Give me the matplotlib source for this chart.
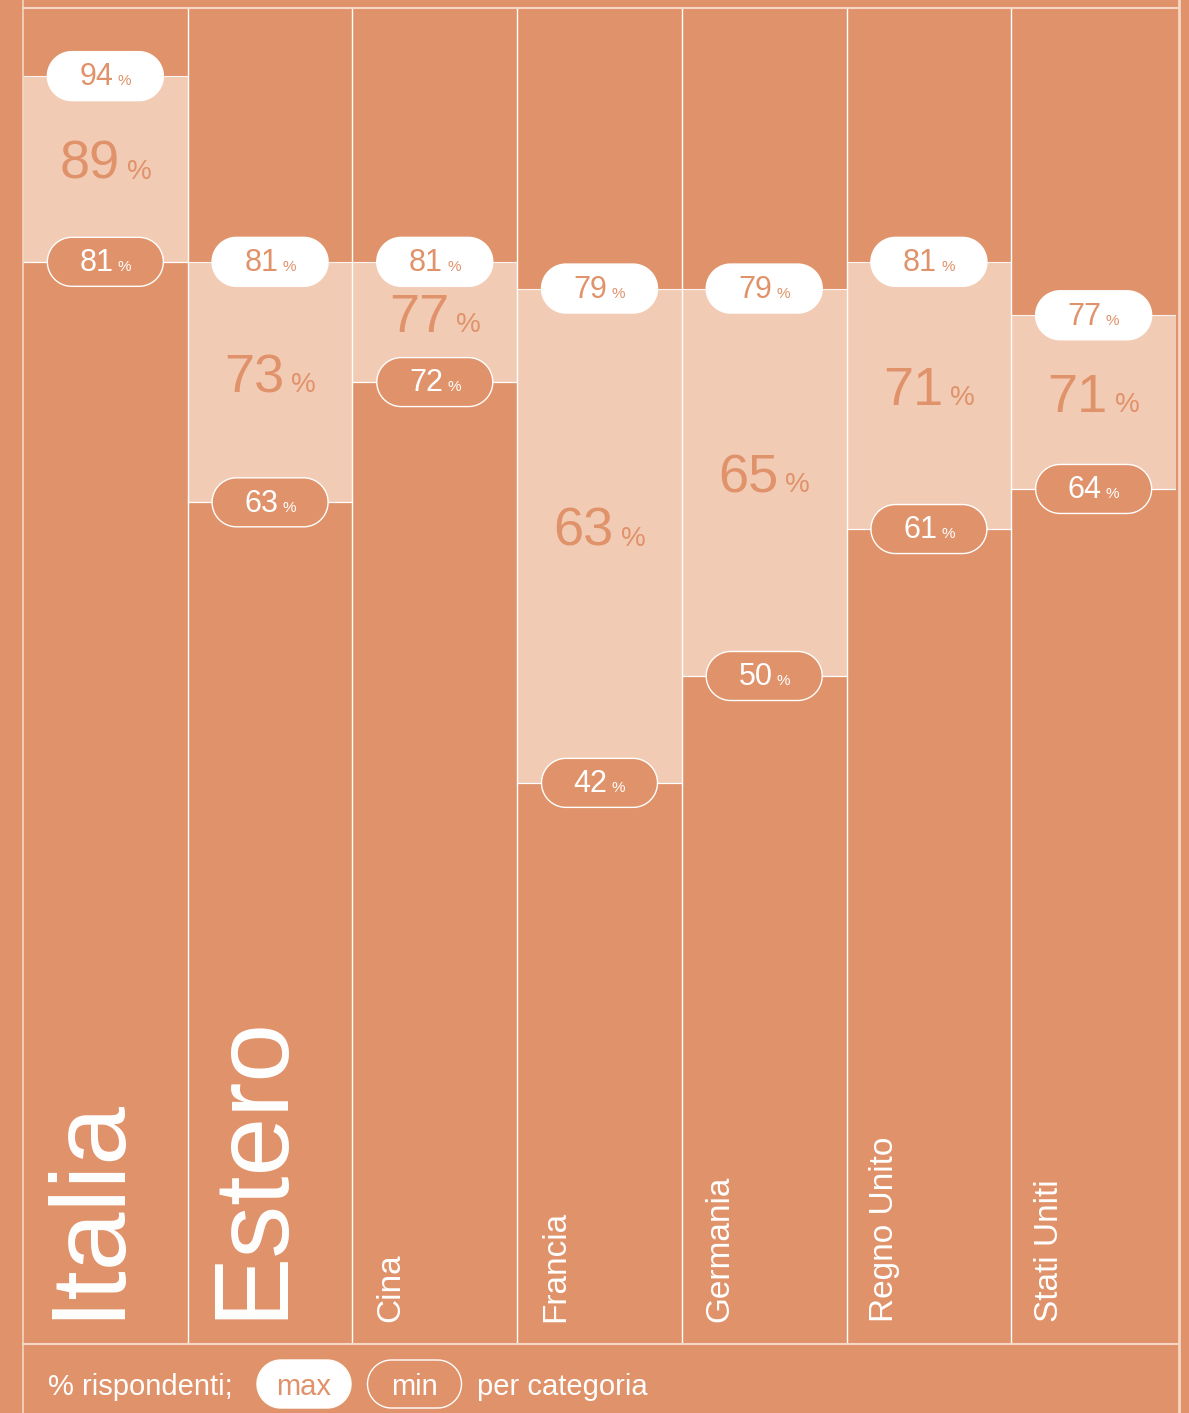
import matplotlib
matplotlib.use("Agg")
import numpy as np
import matplotlib.pyplot as plt
import matplotlib.transforms as mtransforms
from matplotlib.patches import Polygon, Rectangle
from matplotlib.lines import Line2D
from matplotlib.offsetbox import TextArea, HPacker, AnnotationBbox

plt.rcParams['font.family'] = ['Liberation Sans', 'DejaVu Sans']

# dati (% rispondenti)
categorie = ["Italia", "Estero", "Cina", "Francia", "Germania", "Regno Unito", "Stati Uniti"]
valori_max = [94.9, 81, 81, 79, 79, 81, 77]
valori_min = [81, 63, 72, 42, 50, 61, 64]
valori_medi = [89, 73, 77, 63, 65, 71, 71]
grandi = ["Italia", "Estero"]  # etichette in grande

arancio = '#E0926A'
chiaro = '#F2CBB5'
bordo = '#F6D6C4'

W, H = 1189, 1413
fig = plt.figure(figsize=(W / 100, H / 100), dpi=100, facecolor=arancio)
ax = fig.add_axes([23 / W, (H - 1344) / H, 1153 / W, 1336 / H])
ax.set_facecolor(arancio)
ax.set_xlim(0, len(categorie))
ax.set_ylim(0, 100)
ax.axis('off')


def pillola(x, y, w, h, trans, fill, edge, z=5):
    # pillola con estremi semicircolari, misure in pollici centrate su (x, y)
    r = h / 2
    a1 = np.linspace(np.pi / 2, 3 * np.pi / 2, 40)
    a2 = np.linspace(-np.pi / 2, np.pi / 2, 40)
    xs = np.concatenate([-w / 2 + r + r * np.cos(a1), w / 2 - r + r * np.cos(a2)])
    ys = np.concatenate([r * np.sin(a1), r * np.sin(a2)])
    off = mtransforms.ScaledTranslation(x, y, trans)
    p = Polygon(np.column_stack([xs, ys]), closed=True, transform=fig.dpi_scale_trans + off,
                facecolor=fill, edgecolor=edge, linewidth=1.0, zorder=z)
    if trans is fig.transFigure:
        fig.add_artist(p)
    else:
        ax.add_patch(p)


def etichetta(x, y, num, size, color, psize, sep, z=7):
    t1 = TextArea(num, textprops=dict(size=size, color=color))
    t2 = TextArea("%", textprops=dict(size=psize, color=color))
    box = HPacker(children=[t1, t2], align="baseline", pad=0, sep=sep)
    ab = AnnotationBbox(box, (x, y), xycoords='data', frameon=False, box_alignment=(0.5, 0.5),
                        pad=0, zorder=z, annotation_clip=False)
    ax.add_artist(ab)


for i, cat in enumerate(categorie):
    c = i + 0.5
    hi, lo = valori_max[i], valori_min[i]
    ax.add_patch(Rectangle((i, lo), 1, hi - lo, facecolor=chiaro, edgecolor='none', zorder=1))
    ax.plot([i, i + 1], [hi, hi], color='white', lw=0.8, alpha=0.8, zorder=2)
    ax.plot([i, i + 1], [lo, lo], color='white', lw=0.9, zorder=2)

    # max: pillola bianca
    pillola(c, hi, 1.16, 0.49, ax.transData, 'white', 'white')
    etichetta(c, hi - 0.1, str(int(hi)), 22, arancio, 11, 3)
    # min: pillola con contorno
    pillola(c, lo, 1.16, 0.49, ax.transData, arancio, 'white')
    etichetta(c, lo - 0.1, str(int(lo)), 22, 'white', 11, 3)
    # media
    etichetta(c, (hi + lo) / 2 + 0.3, str(valori_medi[i]), 39, arancio, 20, 5, z=4)

    # nome categoria, verticale
    if cat in grandi:
        ax.text(i + 93 / 165, 1.9, cat, rotation=90, rotation_mode='anchor', ha='left',
                va='baseline', fontsize=76, color='white', zorder=3)
    else:
        ax.text(i + 47 / 165, 1.65, cat, rotation=90, rotation_mode='anchor', ha='left',
                va='baseline', fontsize=24, color='white', zorder=3)

# separatori di colonna
for i in range(1, len(categorie)):
    ax.plot([i, i], [0, 100], color='white', lw=1.0, zorder=3)

# cornice
fig.add_artist(Line2D([23 / W, 23 / W], [0, 1], color=bordo, lw=1.2))
fig.add_artist(Line2D([1178.5 / W, 1178.5 / W], [0, 1], color=bordo, lw=2.0))
fig.add_artist(Line2D([23 / W, 1178.5 / W], [(H - 8) / H] * 2, color=bordo, lw=1.5))
fig.add_artist(Line2D([23 / W, 1178.5 / W], [(H - 1344) / H] * 2, color=bordo, lw=1.5))

# legenda in basso
yl = (H - 1384) / H
yt = (H - 1387) / H
fig.text(48 / W, yt, "% rispondenti;", fontsize=21, color='white', va='center', ha='left')
pillola(304 / W, yl, 0.94, 0.48, fig.transFigure, 'white', 'white')
fig.text(304 / W, yt, "max", fontsize=21, color=arancio, va='center', ha='center', zorder=7)
pillola(414.5 / W, yl, 0.94, 0.48, fig.transFigure, arancio, 'white')
fig.text(414.5 / W, yt, "min", fontsize=21, color='white', va='center', ha='center', zorder=7)
fig.text(477 / W, yt, "per categoria", fontsize=21, color='white', va='center', ha='left')

fig.savefig("out.png", dpi=100, facecolor=arancio)
